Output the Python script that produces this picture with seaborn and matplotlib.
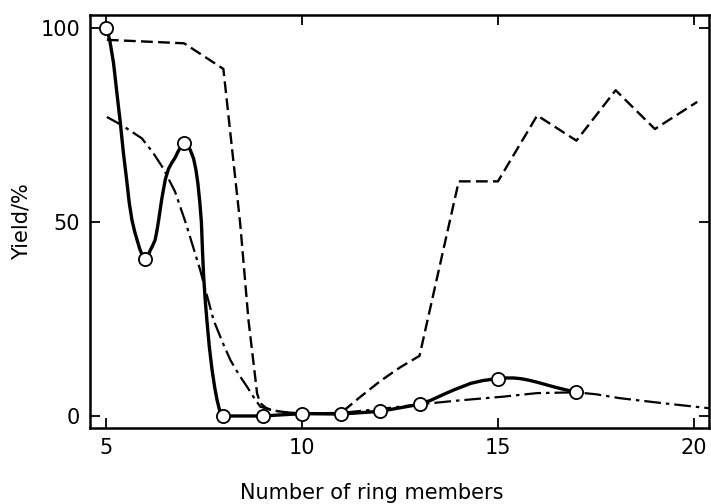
import matplotlib
matplotlib.use("Agg")
import matplotlib.pyplot as plt
import seaborn as sns

# ---- data ----
# measured points (open circles)
ring_members = [5, 6, 7, 8, 9, 10, 11, 12, 13, 15, 17]
yield_points = [100, 40.5, 70.3, 0, 0, 0.6, 0.5, 1.2, 3.0, 9.6, 6.1]

# solid smooth curve through the circles (traced)
solid_x = [5.0, 5.05, 5.11, 5.2, 5.3, 5.37, 5.45, 5.54, 5.6, 5.67, 5.74, 5.8, 5.87,
           5.94, 6.0, 6.07, 6.14, 6.2, 6.26, 6.31, 6.35, 6.43, 6.52, 6.6, 6.68,
           6.77, 6.85, 6.93, 7.01, 7.08, 7.16, 7.24, 7.3, 7.35, 7.4, 7.44, 7.47,
           7.5, 7.54, 7.58, 7.64, 7.71, 7.78, 7.84, 7.9, 7.95, 8.0,
           9.0, 10.0, 11.0, 12.0, 13.0, 13.3, 13.6, 13.87, 14.1, 14.3, 14.6, 14.8,
           15.0, 15.2, 15.4, 15.6, 15.8, 16.0, 16.25, 16.5, 16.75, 17.0]
solid_y = [100, 99, 96.5, 91, 82, 75.9, 68, 60.4, 55, 50.5, 47.5, 45.4, 43,
           41.3, 40.6, 41.2, 42.8, 44, 45.4, 48, 50.5, 56, 61, 63.7, 65.2,
           66.6, 68.3, 69.6, 70.3, 70, 68.5, 66.4, 63.5, 60, 55, 50, 42,
           35.5, 29.5, 24.7, 18, 12, 7.3, 4.1, 1.6, 0.4, 0,
           0, 0.6, 0.5, 1.2, 3.0, 4.1, 5.5, 6.7, 7.6, 8.4, 9.1, 9.4,
           9.6, 9.8, 9.8, 9.6, 9.2, 8.7, 8.0, 7.3, 6.7, 6.1]

# dashed series (traced)
dashed_x = [5.03, 7.0, 8.0, 8.43, 8.64, 8.86, 8.94, 9.1, 9.28, 9.62, 10.0, 11.0,
            11.5, 12.0, 12.5, 13.0, 14.0, 15.0, 16.0, 17.0, 18.0, 19.0, 20.08]
dashed_y = [97, 96.1, 89.5, 49.5, 24.7, 5.8, 3.3, 2.0, 1.4, 0.9, 0.6, 0.8,
            5.0, 9.0, 12.5, 15.5, 60.5, 60.5, 77.5, 71, 84, 74, 81]

# dash-dot series (traced)
dashdot_x = [5.03, 5.41, 5.92, 6.2, 6.47, 6.77, 7.05, 7.41, 7.75, 8.0, 8.18, 8.4,
             8.6, 8.8, 8.94, 9.2, 9.45, 10.0, 11.0, 12.0, 13.0, 14.0, 15.15,
             16.0, 17.0, 17.5, 18.1, 19.2, 20.38]
dashdot_y = [77.1, 75, 71.6, 68, 63.8, 57.8, 49.5, 37.6, 24.7, 18.5, 14.4, 10.6,
             7.6, 4.4, 2.4, 1.6, 1.1, 0.6, 0.8, 1.8, 3.0, 4.0, 5.0,
             5.9, 6.1, 5.6, 4.6, 3.3, 2.0]

x_ticks = [5, 10, 15, 20]
y_ticks = [0, 50, 100]

# ---- style ----
sns.set_style("ticks")
plt.rcParams["font.family"] = ["DejaVu Sans"]
plt.rcParams["lines.scale_dashes"] = False
plt.rcParams["lines.solid_joinstyle"] = "round"
plt.rcParams["lines.dash_joinstyle"] = "round"

fig = plt.figure(figsize=(7.11, 5.04), dpi=100)
ax = fig.add_axes([90 / 711, 76 / 504, 619 / 711, 413 / 504])

sns.lineplot(x=dashed_x, y=dashed_y, ax=ax, estimator=None, sort=False,
             color="black", linewidth=1.7, linestyle=(0, (8.5, 3.8)))
sns.lineplot(x=dashdot_x, y=dashdot_y, ax=ax, estimator=None, sort=False,
             color="black", linewidth=1.6, linestyle=(0, (12, 3.6, 2.5, 3.6)))
sns.lineplot(x=solid_x, y=solid_y, ax=ax, estimator=None, sort=False,
             color="black", linewidth=2.4)
sns.scatterplot(x=ring_members, y=yield_points, ax=ax, marker="o", s=90,
                facecolor="white", edgecolor="black", linewidth=1.3, zorder=5)

ax.set_xlim(4.6, 20.38)
ax.set_ylim(-3.1, 103.4)
ax.set_xticks(x_ticks)
ax.set_yticks(y_ticks)
ax.set_xticklabels([str(v) for v in x_ticks])
ax.set_yticklabels([str(v) for v in y_ticks])
ax.tick_params(direction="in", length=7, width=1.3, top=True, right=True,
               labelsize=15, colors="black", pad=7)

for s in ax.spines.values():
    s.set_visible(True)
    s.set_linewidth(1.8)
    s.set_color("black")

ax.set_xlabel("Number of ring members", fontsize=15, color="black")
ax.set_ylabel("Yield/%", fontsize=15, color="black")
ax.xaxis.set_label_coords(0.455, -0.133)
ax.yaxis.set_label_coords(-0.094, 0.5)

fig.savefig("out.png", dpi=100)
